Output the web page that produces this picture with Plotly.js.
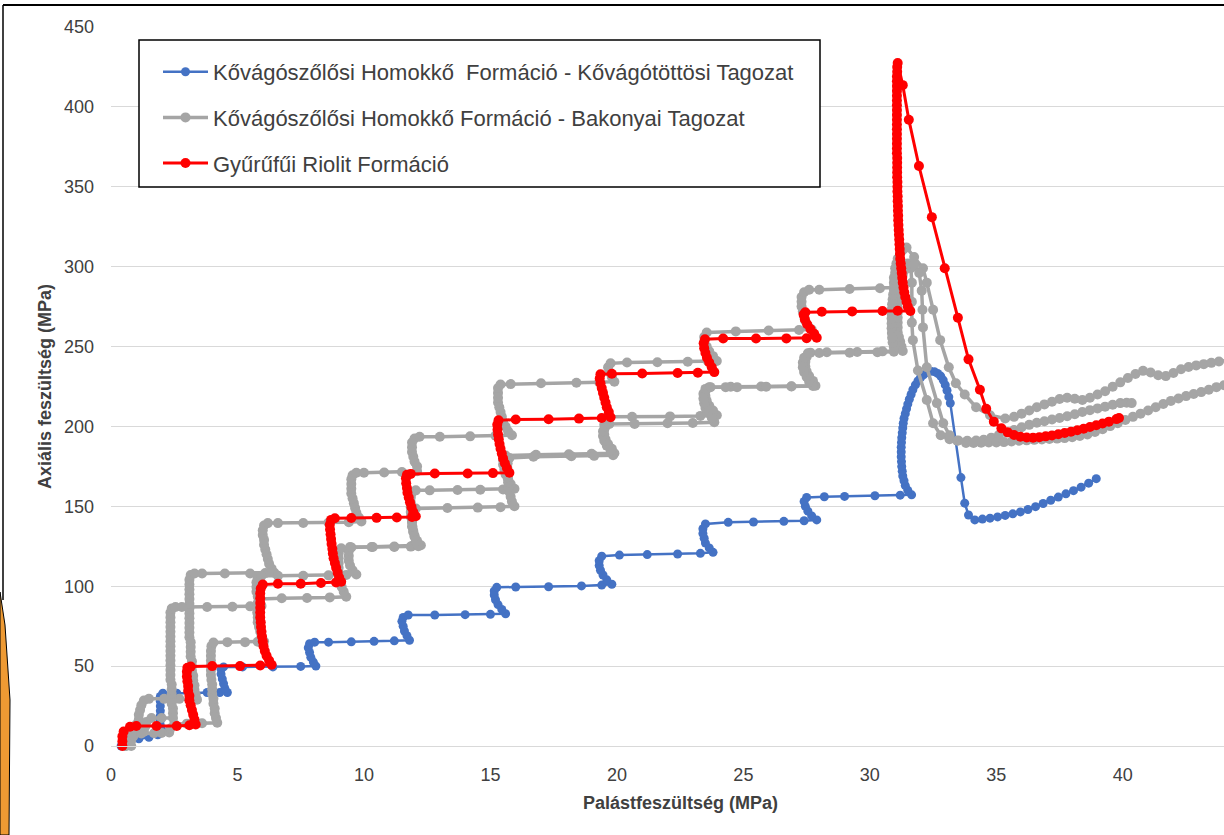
<!DOCTYPE html>
<html>
<head>
<meta charset="utf-8">
<script src="https://cdn.plot.ly/plotly-3.0.1.min.js"></script>
<style>
  html, body { margin: 0; padding: 0; background: #ffffff; }
  #chart { width: 1224px; height: 835px; }
</style>
</head>
<body>
<div id="chart"></div>
<script>
// Triaxial loading paths: [confining stress (MPa), axial stress (MPa)]
const seriesNames = [
  'Kővágószőlősi Homokkő  Formáció - Kővágótöttösi Tagozat',
  'Kővágószőlősi Homokkő Formáció - Bakonyai Tagozat',
  'Gyűrűfűi Riolit Formáció'
];

const kovagotottosi = [
  [0.4,0],[0.45,2],[0.7,3.5],[1.1,4.5],[1.5,5.5],[1.85,7],[2.0,10],[1.95,13],[1.95,16],[1.95,19],[1.95,22],[1.95,25],[1.95,28],[1.95,31],[2.05,33],
  [2.6,33],[3.2,33],[3.8,33.5],[4.3,33.5],[4.6,33.5],
  [4.5,36],[4.45,39],[4.4,42],[4.35,45],[4.35,48],[4.45,49.5],
  [5.2,49.5],[6.4,49.5],[7.5,49.8],[8.1,50],
  [8.0,52.5],[7.9,55.5],[7.85,58.5],[7.8,61.5],[7.85,64],[8.05,65],
  [8.6,65],[9.5,65.2],[10.4,65.5],[11.2,65.8],[11.8,66.2],
  [11.7,69],[11.6,72],[11.55,75],[11.5,78],[11.55,80.5],[11.75,82],
  [12.8,82],[14.0,82.2],[15.0,82.4],[15.6,82.8],
  [15.45,85.5],[15.3,88.5],[15.2,91.5],[15.15,94.5],[15.15,97],[15.25,99.3],
  [16.0,99.5],[17.3,99.7],[18.6,100.2],[19.4,100.7],[19.8,101.2],
  [19.6,104],[19.45,107],[19.35,110],[19.3,113],[19.3,116],[19.4,118.8],
  [20.1,119.5],[21.2,119.8],[22.4,120.2],[23.3,120.6],[23.8,121.2],
  [23.65,124],[23.5,127],[23.45,130],[23.4,133],[23.4,136],[23.5,139],
  [24.4,140],[25.4,140.2],[26.6,140.6],[27.4,141],[27.9,141.5],
  [27.7,144],[27.55,147],[27.45,150],[27.4,153],[27.5,155.6],
  [28.2,156],[29.0,156.2],[30.2,156.6],[31.2,157],[31.65,157.2],
  [31.5,160],[31.4,163],[31.35,166],[31.3,169],[31.28,172],[31.26,175],[31.25,178],[31.24,181],[31.24,184],[31.24,187],
  [31.25,190],[31.26,193],[31.28,196],[31.3,199],[31.32,202],[31.35,205],[31.4,208],[31.45,211],[31.5,214],[31.56,217],
  [31.63,220],[31.7,223],[31.8,226],[31.9,228.5],[32.0,230.5],[32.12,232.3],[32.25,233.7],[32.4,234.5],[32.55,234.3],
  [32.68,233.2],[32.8,231.5],[32.9,229],[32.98,226],[33.05,222.5],[33.12,218.5],[33.18,214.6],
  [33.6,168],[33.75,152],[33.9,144.6],[34.15,141.5],
  [34.45,142],[34.75,142.6],[35.05,143.4],[35.35,144.3],[35.65,145.3],[35.95,146.5],[36.25,148],[36.55,149.8],
  [36.85,151.8],[37.15,153.8],[37.45,155.8],[37.75,157.8],[38.05,159.8],[38.35,162],[38.65,164.5],[38.95,167.3]
];

const bakonyaiA = [
  [0.55,0],[0.6,4],[0.7,8],[0.85,11],[1.0,13.5],[1.1,16.5],[1.1,19.5],[1.15,22.5],[1.2,25.5],[1.3,28.5],[1.5,29.5],[2.1,29.5],[2.7,29.5],[3.2,29.5],[3.4,29],
  [3.35,32],[3.3,35],[3.3,38],[3.25,41],[3.25,44],[3.2,47],[3.2,50],[3.2,53],[3.15,56],[3.15,59],[3.15,62],[3.15,65],[3.1,68],[3.1,71],[3.1,74],
  [3.1,77],[3.1,80],[3.1,83],[3.1,86],[3.1,89],[3.1,92],[3.1,95],[3.1,98],[3.1,101],[3.1,104],[3.15,107],[3.3,108],
  [3.6,108],[4.5,108],[5.5,108],[6.1,108.2],[6.45,108.5],
  [6.35,111],[6.25,114],[6.2,117],[6.15,120],[6.1,123],[6.05,126],[6.05,129],[6.0,132],[6.0,135],[6.05,138],[6.2,139.5],
  [6.6,139.5],[7.6,139.6],[8.6,139.8],[9.4,140],[9.9,140.5],
  [9.8,143],[9.7,146],[9.65,149],[9.6,152],[9.55,155],[9.5,158],[9.5,161],[9.5,164],[9.5,167],[9.55,169.5],[9.7,171],
  [10.0,171],[10.8,171.2],[11.5,171.5],[12.1,172],
  [12.1,175],[12.0,178],[11.95,181],[11.9,184],[11.9,187],[11.9,190],[12.0,192.5],[12.2,193.5],
  [13.0,193.5],[14.2,193.8],[15.2,194.2],[15.85,194.5],
  [15.7,197],[15.6,200],[15.5,203],[15.45,206],[15.4,209],[15.35,212],[15.3,215],[15.3,218],[15.3,221],[15.3,224],[15.4,226.3],
  [15.8,226.5],[17.0,227],[18.4,227.4],[19.3,227.7],[19.9,228],
  [19.8,231],[19.7,234],[19.65,237],[19.75,239.5],
  [20.4,240],[21.6,240.2],[22.8,240.5],[23.6,240.8],[23.95,241],
  [23.8,244],[23.65,247],[23.55,250],[23.45,253],[23.45,256],[23.55,258.8],
  [24.7,259.5],[26.0,260],[27.2,260.4],[27.7,260.6],
  [27.55,263],[27.45,266],[27.4,269],[27.35,272],[27.3,275],[27.3,278],[27.3,281],[27.4,284],[27.6,285.5],
  [28.0,285.6],[29.2,286],[30.4,286.5],[30.95,287],
  [30.95,290],[30.95,293],[31.0,296],[31.0,299],[31.05,302],[31.1,305],[31.2,308],[31.3,310.5],[31.45,312],
  [31.75,306],[32.1,299],[32.25,290],[32.5,273],[32.78,254],[33.12,237],[33.4,227],[33.75,220],[34.2,212],[34.75,207],[35.35,205],
  [35.7,206],[36.0,208],[36.3,210],[36.6,212],[36.9,213.8],[37.2,215.5],[37.5,217.2],[37.8,218],[38.1,217.3],[38.4,216.6],
  [38.7,218],[39.0,220],[39.3,222],[39.6,224.8],[39.9,227.6],[40.2,230.3],[40.5,232.8],[40.8,234.8],[41.1,233.8],[41.4,232],
  [41.7,231.5],[42.0,233.5],[42.3,235.8],[42.6,237.2],[42.9,238.2],[43.2,239],[43.5,239.8],[43.8,240.6],[44.1,241.3]
];

const bakonyaiB = [
  [0.6,0],[0.65,4],[0.75,7.5],[1.0,8.5],[1.3,9],[1.35,12],[1.4,15],[1.6,17.5],[2.0,17.5],[2.45,17.5],
  [2.45,20.5],[2.45,23.5],[2.4,26.5],[2.4,29.5],[2.4,32.5],[2.4,35.5],[2.4,38.5],[2.35,41.5],[2.35,44.5],[2.35,47.5],
  [2.35,50.5],[2.35,53.5],[2.35,56.5],[2.35,59.5],[2.35,62.5],[2.35,65.5],[2.35,68.5],[2.35,71.5],[2.35,74.5],[2.35,77.5],
  [2.35,80.5],[2.35,83.5],[2.4,86],[2.55,87],
  [2.8,87],[3.8,87],[4.8,87.2],[5.5,87.4],[5.95,87.6],
  [5.85,90.5],[5.8,93.5],[5.75,96.5],[5.75,99.5],[5.75,102.5],[5.8,105],[5.95,106.5],
  [6.6,106.5],[7.6,106.6],[8.6,106.8],[9.3,107],[9.7,107.3],
  [9.55,110],[9.45,113],[9.4,116],[9.4,119],[9.4,122],[9.5,124.3],
  [10.3,124.6],[11.2,124.9],[11.9,125.2],[12.25,125.6],
  [12.1,128.5],[12.0,131.5],[11.95,134.5],[11.9,137.5],[11.9,140.5],[11.85,143.5],[11.85,146.5],[11.85,149.5],[11.85,152.5],[11.85,155.5],[11.9,158.5],[12.05,160],
  [12.6,160],[13.7,160.2],[14.6,160.4],[15.5,160.6],[15.95,161],
  [15.8,164],[15.7,167],[15.6,170],[15.55,173],[15.5,176],[15.5,179],[15.6,181.8],
  [16.8,182.3],[18.1,182.6],[19.0,182.9],[19.9,183.2],
  [19.8,186],[19.65,189],[19.55,192],[19.5,195],[19.5,198],[19.5,201],[19.5,204],[19.65,206],
  [20.6,206],[22.1,206.3],[23.3,206.6],[23.95,207],
  [23.8,210],[23.65,213],[23.55,216],[23.5,219],[23.5,222],[23.65,224.6],
  [24.5,224.8],[25.7,225],[26.9,225.2],[27.85,225.5],
  [27.75,228.5],[27.6,231.5],[27.5,234.5],[27.45,237.5],[27.45,240.5],[27.5,243.5],[27.65,246.2],
  [28.3,246.4],[29.5,246.6],[30.5,247],[31.3,247.2],
  [31.25,250],[31.2,253],[31.15,256],[31.1,259],[31.1,262],[31.1,265],[31.1,268],[31.1,271],[31.1,274],[31.1,277],
  [31.12,280],[31.15,283],[31.18,286],[31.2,289],[31.25,292],[31.3,295],[31.38,298],[31.5,300.5],[31.62,299],
  [31.66,290],[31.66,278],[31.66,265],[31.7,254],[31.9,235],[32.25,216.5],[32.5,202],[32.8,194.5],[33.15,192],[33.5,191.2],
  [33.85,191],[34.2,191.2],[34.5,191.6],
  [34.8,193],[35.1,194.6],[35.4,196.2],[35.7,197.8],[36.0,199.5],[36.3,201],[36.6,202.3],[36.9,203.3],[37.2,204.3],[37.5,205.3],
  [37.8,206.4],[38.1,207.6],[38.4,209],[38.7,210.2],[39.0,211.3],[39.3,212.4],[39.6,213.6],[39.9,214.6],[40.15,214.8],[40.35,214.6]
];

const bakonyaiC = [
  [0.8,0],[0.8,3.5],[0.9,6.5],[1.2,7.8],[1.7,8],[2.0,8.2],[2.3,8.5],[2.35,11],[2.5,13.8],[3.0,14],[3.6,14.2],[4.2,14.5],
  [4.15,17.5],[4.1,20.5],[4.1,23.5],[4.05,26.5],[4.05,29.5],[4.0,32.5],[4.0,35.5],[4.0,38.5],[3.97,41.5],[3.95,44.5],
  [3.95,47.5],[3.95,50.5],[3.95,53.5],[3.95,56.5],[3.95,59.5],[3.97,62.5],[4.05,64.8],
  [4.6,65],[5.3,65],[5.8,65.2],[6.05,65.6],
  [5.95,68.5],[5.9,71.5],[5.85,74.5],[5.8,77.5],[5.8,80.5],[5.78,83.5],[5.78,86.5],[5.8,89.5],[5.9,92],
  [6.75,92.5],[7.75,92.6],[8.65,93],[9.3,93.4],
  [9.2,96.5],[9.12,99.5],[9.07,102.5],[9.03,105.5],[9.0,108.5],[9.0,111.5],[9.0,114.5],[9.0,117.5],[9.0,120.5],[9.1,123.8],
  [9.45,124.5],[10.35,124.5],[11.2,124.6],[11.85,124.8],[12.15,125],
  [12.05,128],[12.0,131],[11.95,134],[11.92,137],[11.9,140],[11.92,143],[11.95,146],[12.05,148.6],
  [13.3,149],[14.5,149.2],[15.4,149.5],[15.95,150],
  [15.85,153],[15.8,156],[15.75,159],[15.72,162],[15.7,165],[15.68,168],[15.67,171],[15.67,174],[15.68,177],[15.75,180.3],
  [16.7,181],[18.2,181.3],[19.1,181.6],[19.85,182],
  [19.75,185],[19.6,188],[19.5,191],[19.45,194],[19.45,197],[19.55,200],[19.7,201.5],
  [20.7,201.6],[22.0,202],[23.0,202.2],[23.85,202.6],
  [23.75,205.5],[23.6,208.5],[23.5,211.5],[23.45,214.5],[23.42,217.5],[23.42,220.5],[23.5,223.5],[23.7,224.6],
  [24.3,224.6],[24.75,224.6],[25.9,224.9],[26.9,225],[27.75,225.3],
  [27.6,228],[27.5,231],[27.4,234],[27.35,237],[27.35,240],[27.4,243],[27.55,245.8],
  [28.0,246],[29.2,246.2],[30.3,246.5],[30.95,246.8],
  [30.95,249.5],[30.9,252.5],[30.88,255.5],[30.87,258.5],[30.86,261.5],[30.86,264.5],[30.86,267.5],[30.86,270.5],[30.87,273.5],
  [30.88,276.5],[30.9,279.5],[30.92,282.5],[30.95,285.5],[30.98,288.5],[31.02,291.5],[31.07,294.5],[31.15,297.5],[31.3,300],
  [31.5,302],[31.75,301],[31.95,296],
  [32.05,285],[32.08,273],[32.1,262],[32.25,237],[32.65,214.6],[32.9,202],[33.15,194.5],[33.45,191],[33.8,189.6],
  [34.1,189.7],[34.4,189.8],[34.7,189.9],[35.0,190],[35.3,190.2],[35.6,190.6],[35.9,191],[36.2,191.3],[36.5,191.6],[36.8,191.9],
  [37.1,192.2],[37.4,192.4],[37.7,192.7],[38.0,193.2],[38.3,194],[38.6,195],[38.9,196.5],[39.2,198.3],[39.5,200.2],[39.8,202],
  [40.1,204],[40.4,206],[40.7,208],[41.0,210],[41.3,212],[41.6,214],[41.9,216],[42.2,217.5],[42.5,219],[42.8,220.3],
  [43.1,221.5],[43.4,223],[43.7,224.6],[44.0,225.8],[44.3,227]
];

const riolit = [
  [0.45,0],[0.45,3],[0.45,6],[0.5,9],[0.75,12],[1.0,12.5],[1.8,12.5],[2.6,12.5],[3.1,13],[3.35,13.5],
  [3.3,16.5],[3.25,19.5],[3.2,22.5],[3.15,25.5],[3.1,28.5],[3.1,31.5],[3.05,34.5],[3.05,37.5],[3.02,40.5],[3.0,43.5],[3.0,46.5],[3.02,49],[3.15,49.7],
  [4.0,50],[5.1,50],[5.9,50.4],[6.35,50.8],
  [6.25,53.5],[6.15,56.5],[6.08,59.5],[6.03,62.5],[6.0,65.5],[5.97,68.5],[5.95,71.5],[5.93,74.5],[5.92,77.5],[5.9,80.5],
  [5.9,83.5],[5.9,86.5],[5.9,89.5],[5.9,92.5],[5.9,95.5],[5.92,98.5],[6.0,101],
  [6.6,101.5],[7.5,101.6],[8.3,102],[8.9,102.4],[9.1,102.8],
  [9.02,105.5],[8.96,108.5],[8.9,111.5],[8.85,114.5],[8.8,117.5],[8.77,120.5],[8.75,123.5],[8.72,126.5],[8.7,129.5],
  [8.68,132.5],[8.66,135.5],[8.65,138.5],[8.7,141.5],[8.85,142.5],
  [9.5,142.7],[10.5,142.8],[11.3,143],[11.9,143.4],[12.05,143.8],
  [11.95,146.5],[11.88,149.5],[11.82,152.5],[11.77,155.5],[11.72,158.5],[11.7,161.5],[11.67,164.5],[11.66,167.5],[11.7,169.8],[11.85,170.3],
  [12.8,170.5],[14.1,170.6],[15.1,170.8],[15.75,171],
  [15.65,174],[15.57,177],[15.5,180],[15.45,183],[15.4,186],[15.36,189],[15.33,192],[15.3,195],[15.28,198],[15.27,201],[15.32,203.8],
  [16.0,204.3],[17.3,204.5],[18.5,204.9],[19.4,205.3],[19.75,205.8],
  [19.68,209],[19.6,212],[19.55,215],[19.5,218],[19.45,221],[19.4,224],[19.35,227],[19.32,230],[19.35,232.6],
  [19.8,233],[21.0,233.1],[22.4,233.4],[23.2,233.6],[23.85,234],
  [23.75,237],[23.65,240],[23.56,243],[23.5,246],[23.45,249],[23.43,252],[23.48,254.6],
  [24.2,255],[25.5,255],[26.7,255.1],[27.5,255.2],[27.9,255.5],
  [27.8,258],[27.65,261],[27.52,264],[27.43,267],[27.38,270],[27.45,271.5],
  [28.1,271.8],[29.3,272],[30.5,272.3],[31.1,272.4],[31.6,272.2],
  [31.5,275],[31.45,278],[31.4,281],[31.36,284],[31.33,287],[31.3,290],[31.28,293],[31.26,296],[31.24,299],[31.22,302],
  [31.2,305],[31.19,308],[31.18,311],[31.17,314],[31.16,317],[31.15,320],[31.14,323],[31.13,326],[31.12,329],[31.12,332],
  [31.11,335],[31.11,338],[31.1,341],[31.1,344],[31.09,347],[31.09,350],[31.09,353],[31.08,356],[31.08,359],[31.08,362],
  [31.08,365],[31.08,368],[31.07,371],[31.07,374],[31.07,377],[31.07,380],[31.07,383],[31.07,386],[31.07,389],[31.07,392],
  [31.07,395],[31.07,398],[31.07,401],[31.07,404],[31.07,407],[31.07,410],[31.07,413],[31.07,416],[31.07,419],[31.08,422],
  [31.08,425],[31.1,427.5],
  [31.3,413.6],[31.54,392],[31.94,363],[32.45,331],[32.96,299],[33.48,268],[33.9,242],[34.35,223],[34.6,211],[34.9,203],[35.2,198.8],
  [35.45,196.3],[35.7,194.6],[35.95,193.6],[36.2,193.1],[36.45,193],[36.7,193.3],[36.95,193.8],[37.2,194.4],[37.45,195.1],
  [37.7,195.9],[37.95,196.7],[38.2,197.6],[38.45,198.6],[38.7,199.6],[38.95,200.7],[39.2,201.8],[39.45,203],[39.75,204.6],[39.85,205.3]
];

const xTicks = [0, 5, 10, 15, 20, 25, 30, 35, 40];
const yTicks = [0, 50, 100, 150, 200, 250, 300, 350, 400, 450];

const BLUE = '#4472C4';
const GREY = '#A5A5A5';
const RED = '#FF0000';
const TEXT = '#404040';
const FONT = 'Liberation Sans, Arial, sans-serif';

function path(points, name, color, lineWidth, markerSize, group, showLegend) {
  return {
    type: 'scatter',
    mode: 'lines+markers',
    name: name,
    x: points.map(p => p[0]),
    y: points.map(p => p[1]),
    line: { color: color, width: lineWidth },
    marker: { color: color, size: markerSize },
    legendgroup: group,
    showlegend: showLegend,
    cliponaxis: false,
    hoverinfo: 'x+y+name'
  };
}

const traces = [
  path(kovagotottosi, seriesNames[0], BLUE, 2.5, 9, 'g1', true),
  path(bakonyaiA, seriesNames[1], GREY, 3.5, 10, 'g2', true),
  path(bakonyaiB, seriesNames[1], GREY, 3.5, 10, 'g2', false),
  path(bakonyaiC, seriesNames[1], GREY, 3.5, 10, 'g2', false),
  path(riolit, seriesNames[2], RED, 3, 10, 'g3', true)
];

// paper-coordinate helpers for the 1224x835 canvas (plot area: x 111..1224, y 27..746)
const px = v => (v - 111) / 1113;
const py = v => (746 - v) / 719;

const layout = {
  width: 1224,
  height: 835,
  margin: { l: 111, r: 0, t: 27, b: 89, pad: 0 },
  paper_bgcolor: '#ffffff',
  plot_bgcolor: '#ffffff',
  showlegend: true,
  font: { family: FONT, color: TEXT },
  xaxis: {
    range: [0, 44],
    tickvals: xTicks,
    ticktext: xTicks.map(String),
    showgrid: false,
    zeroline: false,
    showline: true,
    linecolor: '#d9d9d9',
    linewidth: 1,
    ticks: '',
    ticklabelstandoff: 12,
    tickfont: { family: FONT, size: 18, color: TEXT },
    fixedrange: true
  },
  yaxis: {
    range: [0, 450],
    tickvals: yTicks,
    ticktext: yTicks.map(String),
    showgrid: true,
    gridcolor: '#d9d9d9',
    gridwidth: 1,
    zeroline: false,
    showline: false,
    ticks: '',
    ticklabelstandoff: 16,
    tickfont: { family: FONT, size: 18, color: TEXT },
    title: { text: '<b>Axiális feszültség (MPa)</b>', font: { family: FONT, size: 18, color: TEXT }, standoff: 7 },
    fixedrange: true
  },
  annotations: [
    { text: '<b>Palástfeszültség (MPa)</b>', xref: 'paper', yref: 'paper', x: px(680), y: py(803),
      xanchor: 'center', yanchor: 'middle', showarrow: false, font: { family: FONT, size: 18, color: TEXT } }
  ],
  legend: {
    x: px(158),
    y: py(51),
    xanchor: 'left',
    yanchor: 'top',
    bgcolor: 'rgba(0,0,0,0)',
    borderwidth: 0,
    traceorder: 'grouped',
    tracegroupgap: 14,
    itemwidth: 45,
    font: { family: FONT, size: 22, color: TEXT }
  },
  shapes: [
    // legend frame
    { type: 'rect', xref: 'paper', yref: 'paper', x0: px(139), x1: px(820), y0: py(187), y1: py(40),
      line: { color: '#000000', width: 1.5 }, fillcolor: '#ffffff', layer: 'above' },
    // outer frame
    { type: 'line', xref: 'paper', yref: 'paper', x0: px(3), x1: px(1224), y0: py(5), y1: py(5),
      line: { color: '#000000', width: 2 } },
    { type: 'line', xref: 'paper', yref: 'paper', x0: px(3), x1: px(3), y0: py(5), y1: py(600),
      line: { color: '#000000', width: 1.5 } },
    // orange side tab
    { type: 'path', xref: 'paper', yref: 'paper',
      path: 'M ' + px(0) + ',' + py(592) + ' L ' + px(5) + ',' + py(625) + ' L ' + px(10) + ',' + py(700) +
            ' L ' + px(9) + ',' + py(835) + ' L ' + px(0) + ',' + py(835) + ' Z',
      fillcolor: '#EE9A33', line: { color: '#000000', width: 1 } }
  ]
};

Plotly.newPlot('chart', traces, layout, { displayModeBar: false, staticPlot: true });
</script>
</body>
</html>
